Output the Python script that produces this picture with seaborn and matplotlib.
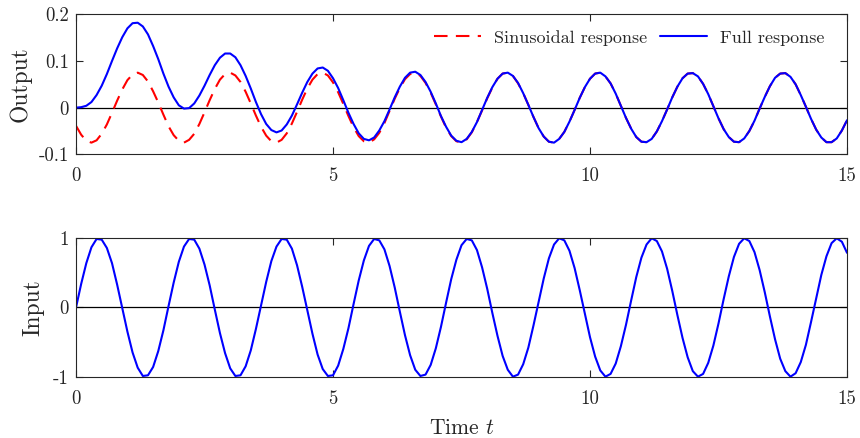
import numpy as np
import pandas as pd
import matplotlib
matplotlib.use("Agg")
import matplotlib.pyplot as plt
import seaborn as sns

time = np.round(np.arange(151) * 0.1, 1)

sinusoidal_response = [
    -0.039, -0.058, -0.071, -0.075, -0.070, -0.056, -0.036, -0.011, 0.015, 0.039, 0.059, 0.071, 0.075, 0.070, 0.056, 0.035, 0.011, -0.015,
    -0.040, -0.059, -0.071, -0.075, -0.069, -0.056, -0.035, -0.010, 0.016, 0.040, 0.060, 0.072, 0.075, 0.069, 0.055, 0.034, 0.009, -0.017,
    -0.041, -0.060, -0.072, -0.075, -0.069, -0.055, -0.034, -0.009, 0.017, 0.041, 0.060, 0.072, 0.075, 0.069, 0.054, 0.033, 0.008, -0.018,
    -0.042, -0.061, -0.072, -0.075, -0.068, -0.054, -0.033, -0.007, 0.019, 0.042, 0.061, 0.072, 0.075, 0.068, 0.053, 0.032, 0.007, -0.019,
    -0.043, -0.061, -0.072, -0.075, -0.068, -0.053, -0.031, -0.006, 0.020, 0.043, 0.062, 0.073, 0.075, 0.068, 0.052, 0.031, 0.006, -0.020,
    -0.044, -0.062, -0.073, -0.075, -0.067, -0.052, -0.030, -0.005, 0.021, 0.044, 0.062, 0.073, 0.075, 0.067, 0.052, 0.030, 0.004, -0.022,
    -0.045, -0.063, -0.073, -0.074, -0.067, -0.051, -0.029, -0.004, 0.022, 0.045, 0.063, 0.073, 0.074, 0.067, 0.051, 0.029, 0.003, -0.023,
    -0.046, -0.063, -0.073, -0.074, -0.066, -0.050, -0.028, -0.002, 0.023, 0.046, 0.064, 0.073, 0.074, 0.066, 0.050, 0.027, 0.002, -0.024,
    -0.047, -0.064, -0.074, -0.074, -0.066, -0.049, -0.027,
]

full_response = [
    0.000, 0.001, 0.004, 0.012, 0.027, 0.047, 0.072, 0.100, 0.127, 0.151, 0.170, 0.181, 0.182, 0.174, 0.157, 0.132, 0.104, 0.073,
    0.045, 0.022, 0.005, -0.002, -0.001, 0.009, 0.026, 0.047, 0.070, 0.091, 0.107, 0.116, 0.116, 0.108, 0.091, 0.068, 0.041, 0.012,
    -0.014, -0.035, -0.048, -0.053, -0.049, -0.036, -0.017, 0.007, 0.032, 0.055, 0.073, 0.084, 0.086, 0.079, 0.063, 0.042, 0.016, -0.011,
    -0.035, -0.055, -0.067, -0.070, -0.064, -0.049, -0.029, -0.004, 0.022, 0.045, 0.064, 0.075, 0.077, 0.070, 0.055, 0.034, 0.009, -0.018,
    -0.041, -0.060, -0.071, -0.074, -0.067, -0.052, -0.031, -0.005, 0.021, 0.044, 0.062, 0.073, 0.075, 0.068, 0.053, 0.031, 0.006, -0.020,
    -0.044, -0.062, -0.073, -0.075, -0.067, -0.052, -0.030, -0.005, 0.021, 0.044, 0.062, 0.073, 0.075, 0.067, 0.052, 0.030, 0.004, -0.022,
    -0.045, -0.063, -0.073, -0.074, -0.067, -0.051, -0.029, -0.004, 0.022, 0.045, 0.063, 0.073, 0.074, 0.067, 0.051, 0.029, 0.003, -0.023,
    -0.046, -0.063, -0.073, -0.074, -0.066, -0.050, -0.028, -0.002, 0.023, 0.046, 0.064, 0.073, 0.074, 0.066, 0.050, 0.027, 0.002, -0.024,
    -0.047, -0.064, -0.074, -0.074, -0.066, -0.049, -0.027,
]

input_signal = [
    0.00, 0.34, 0.64, 0.87, 0.99, 0.98, 0.86, 0.64, 0.33, -0.01, -0.35, -0.65, -0.87, -0.99, -0.98, -0.86, -0.63, -0.33,
    0.02, 0.36, 0.66, 0.88, 0.99, 0.98, 0.85, 0.62, 0.32, -0.03, -0.37, -0.66, -0.88, -0.99, -0.98, -0.85, -0.62, -0.31,
    0.03, 0.37, 0.67, 0.88, 0.99, 0.98, 0.85, 0.61, 0.30, -0.04, -0.38, -0.68, -0.89, -0.99, -0.98, -0.84, -0.60, -0.30,
    0.05, 0.39, 0.68, 0.89, 0.99, 0.97, 0.84, 0.60, 0.29, -0.06, -0.40, -0.69, -0.90, -0.99, -0.97, -0.83, -0.59, -0.28,
    0.07, 0.41, 0.69, 0.90, 0.99, 0.97, 0.83, 0.58, 0.27, -0.08, -0.41, -0.70, -0.90, -1.00, -0.97, -0.82, -0.58, -0.26,
    0.08, 0.42, 0.71, 0.91, 1.00, 0.97, 0.82, 0.57, 0.25, -0.09, -0.43, -0.71, -0.91, -1.00, -0.96, -0.81, -0.56, -0.25,
    0.10, 0.44, 0.72, 0.91, 1.00, 0.96, 0.81, 0.56, 0.24, -0.11, -0.44, -0.72, -0.92, -1.00, -0.96, -0.80, -0.55, -0.23,
    0.12, 0.45, 0.73, 0.92, 1.00, 0.96, 0.80, 0.54, 0.22, -0.13, -0.46, -0.74, -0.92, -1.00, -0.95, -0.79, -0.54, -0.21,
    0.13, 0.47, 0.74, 0.93, 1.00, 0.95, 0.79,
]

x_ticks = [0, 5, 10, 15]
x_tick_labels = ["0", "5", "10", "15"]
out_ticks = [-0.1, 0.0, 0.1, 0.2]
out_tick_labels = ["-0.1", "0", "0.1", "0.2"]
in_ticks = [-1, 0, 1]
in_tick_labels = ["-1", "0", "1"]

df = pd.DataFrame({
    "t": time,
    "sinusoidal": sinusoidal_response,
    "full": full_response,
    "input": input_signal,
})

# ---- style ----
sns.set_theme(style="ticks")
plt.rcParams["font.family"] = ["cmr10", "DejaVu Serif"]
plt.rcParams["mathtext.fontset"] = "cm"
plt.rcParams["axes.unicode_minus"] = False
plt.rcParams["axes.formatter.use_mathtext"] = True

TXT = "#262626"

fig = plt.figure(figsize=(8.6, 4.38), dpi=100)
fig.patch.set_facecolor("white")
ax1 = fig.add_axes([0.0884, 0.6477, 0.8965, 0.3196])
ax2 = fig.add_axes([0.0884, 0.1400, 0.8965, 0.3160])

for ax in (ax1, ax2):
    ax.set_facecolor("white")
    ax.axhline(0, color="black", lw=0.9, zorder=1)

sns.lineplot(data=df, x="t", y="sinusoidal", ax=ax1, color="red", lw=1.5,
             linestyle=(0, (6.5, 4)), errorbar=None, label="Sinusoidal response")
sns.lineplot(data=df, x="t", y="full", ax=ax1, color="blue", lw=1.5,
             errorbar=None, label="Full response")
sns.lineplot(data=df, x="t", y="input", ax=ax2, color="blue", lw=1.5,
             errorbar=None, legend=False)

ax1.set_ylim(-0.1, 0.2)
ax1.set_yticks(out_ticks)
ax1.set_yticklabels(out_tick_labels)
ax2.set_ylim(-1, 1)
ax2.set_yticks(in_ticks)
ax2.set_yticklabels(in_tick_labels)

for ax in (ax1, ax2):
    ax.set_xlim(0, 15)
    ax.set_xticks(x_ticks)
    ax.set_xticklabels(x_tick_labels)
    for s in ax.spines.values():
        s.set_visible(True)
        s.set_color(TXT)
        s.set_linewidth(0.8)
    ax.tick_params(axis="both", direction="in", length=5, width=0.8,
                   color=TXT, top=True, right=True, labelsize=13.5,
                   labelcolor=TXT)
    ax.tick_params(axis="x", pad=9.5)
    ax.tick_params(axis="y", pad=5)

ax1.set_xlabel("")
ax1.set_ylabel("Output", fontsize=17, color=TXT)
ax2.set_ylabel("Input", fontsize=17, color=TXT)
ax2.set_xlabel("Time $t$", fontsize=15.5, color=TXT)
ax1.yaxis.set_label_coords(-0.058, 0.5)
ax2.yaxis.set_label_coords(-0.041, 0.5)
ax2.xaxis.labelpad = 8

leg = ax1.legend(loc="center right", bbox_to_anchor=(0.9706, 0.833), ncol=2,
                 frameon=False, fontsize=13, handlelength=2.6,
                 handletextpad=0.7, columnspacing=0.75, borderpad=0,
                 borderaxespad=0)

fig.savefig("out.png", dpi=100, facecolor="white")
